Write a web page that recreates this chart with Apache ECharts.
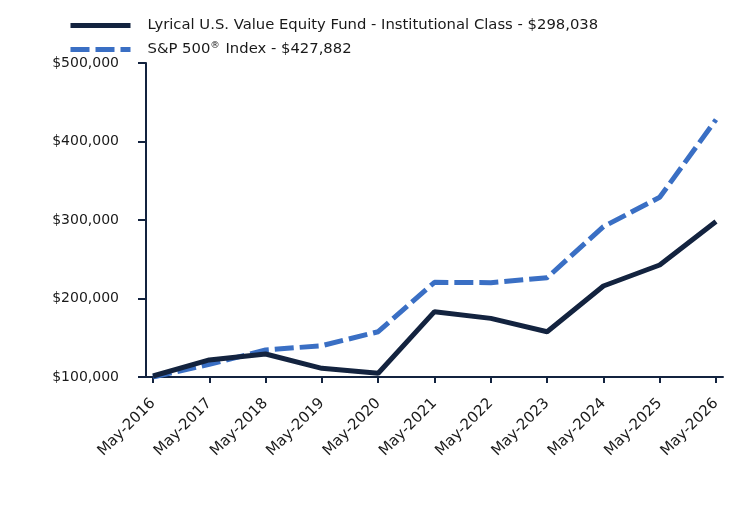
<!DOCTYPE html>
<html>
<head>
<meta charset="utf-8">
<script src="https://cdn.jsdelivr.net/npm/echarts@6/dist/echarts.min.js"></script>
<style>
html,body{margin:0;padding:0;background:#fff;}
#chart{width:744px;height:516px;}
</style>
</head>
<body>
<div id="chart"></div>
<script>
const categories = ['May-2016','May-2017','May-2018','May-2019','May-2020','May-2021','May-2022','May-2023','May-2024','May-2025','May-2026'];
const fundValues = [101300, 121700, 129300, 111000, 104700, 183200, 174700, 157700, 215900, 242700, 298038];
const spValues = [100000, 116100, 134400, 139900, 157700, 220600, 220200, 226500, 291500, 328900, 427882];
const fundName = 'Lyrical U.S. Value Equity Fund - Institutional Class - $298,038';
const spName = 'S&P 500® Index - $427,882';
const yTicks = [100000, 200000, 300000, 400000, 500000];

const navy = '#13233f';
const blue = '#3a6fc4';
const font = 'DejaVu Sans';

const chart = echarts.init(document.getElementById('chart'));
chart.setOption({
  animation: false,
  backgroundColor: '#fff',
  legend: {
    orient: 'vertical',
    left: 63,
    top: 13,
    itemWidth: 60,
    itemHeight: 14,
    itemGap: 8,
    data: [fundName, spName],
    itemStyle: { opacity: 0 },
    lineStyle: { width: 5 },
    textStyle: {
      fontFamily: font, fontSize: 14.8, color: '#1a1a1a', padding: [0,0,0,12],
      rich: { sup: { fontFamily: font, fontSize: 9.5, color: '#1a1a1a', verticalAlign: 'top', padding: [0,1,7,0] } }
    },
    formatter: function (n) { return n.replace('®', '{sup|®}'); }
  },
  grid: [
    { left: 153, right: 28, top: 63, bottom: 139 },
    { left: 146, right: 21, top: 63, bottom: 139 }
  ],
  xAxis: [
    {
      type: 'category', gridIndex: 0, data: categories, boundaryGap: false,
      axisLine: { show: false },
      axisTick: { show: true, length: 6, lineStyle: { color: navy, width: 2 } },
      axisLabel: { rotate: 45, margin: 24, fontFamily: font, fontSize: 15, color: '#1a1a1a' },
      splitLine: { show: false }
    },
    {
      type: 'value', gridIndex: 1, min: 0, max: 1,
      axisLine: { show: true, lineStyle: { color: navy, width: 2 } },
      axisTick: { show: false }, axisLabel: { show: false }, splitLine: { show: false }
    }
  ],
  yAxis: [
    {
      type: 'value', gridIndex: 0, min: yTicks[0], max: yTicks[yTicks.length-1], interval: 100000,
      show: false
    },
    {
      type: 'value', gridIndex: 1, min: yTicks[0], max: yTicks[yTicks.length-1], interval: 100000,
      axisLine: { show: true, lineStyle: { color: navy, width: 2 } },
      axisTick: { show: true, length: 8, lineStyle: { color: navy, width: 2 } },
      axisLabel: {
        margin: 27, fontFamily: font, fontSize: 14, color: '#1a1a1a',
        formatter: function (v) { return '$' + v.toLocaleString('en-US'); }
      },
      splitLine: { show: false }
    }
  ],
  series: [
    {
      name: spName, type: 'line', xAxisIndex: 0, yAxisIndex: 0, data: spValues,
      symbol: 'none', z: 2,
      lineStyle: { color: blue, width: 5, type: [19, 6] },
      itemStyle: { color: blue }
    },
    {
      name: fundName, type: 'line', xAxisIndex: 0, yAxisIndex: 0, data: fundValues,
      symbol: 'none', z: 3,
      lineStyle: { color: navy, width: 5 },
      itemStyle: { color: navy }
    }
  ]
});
</script>
</body>
</html>
